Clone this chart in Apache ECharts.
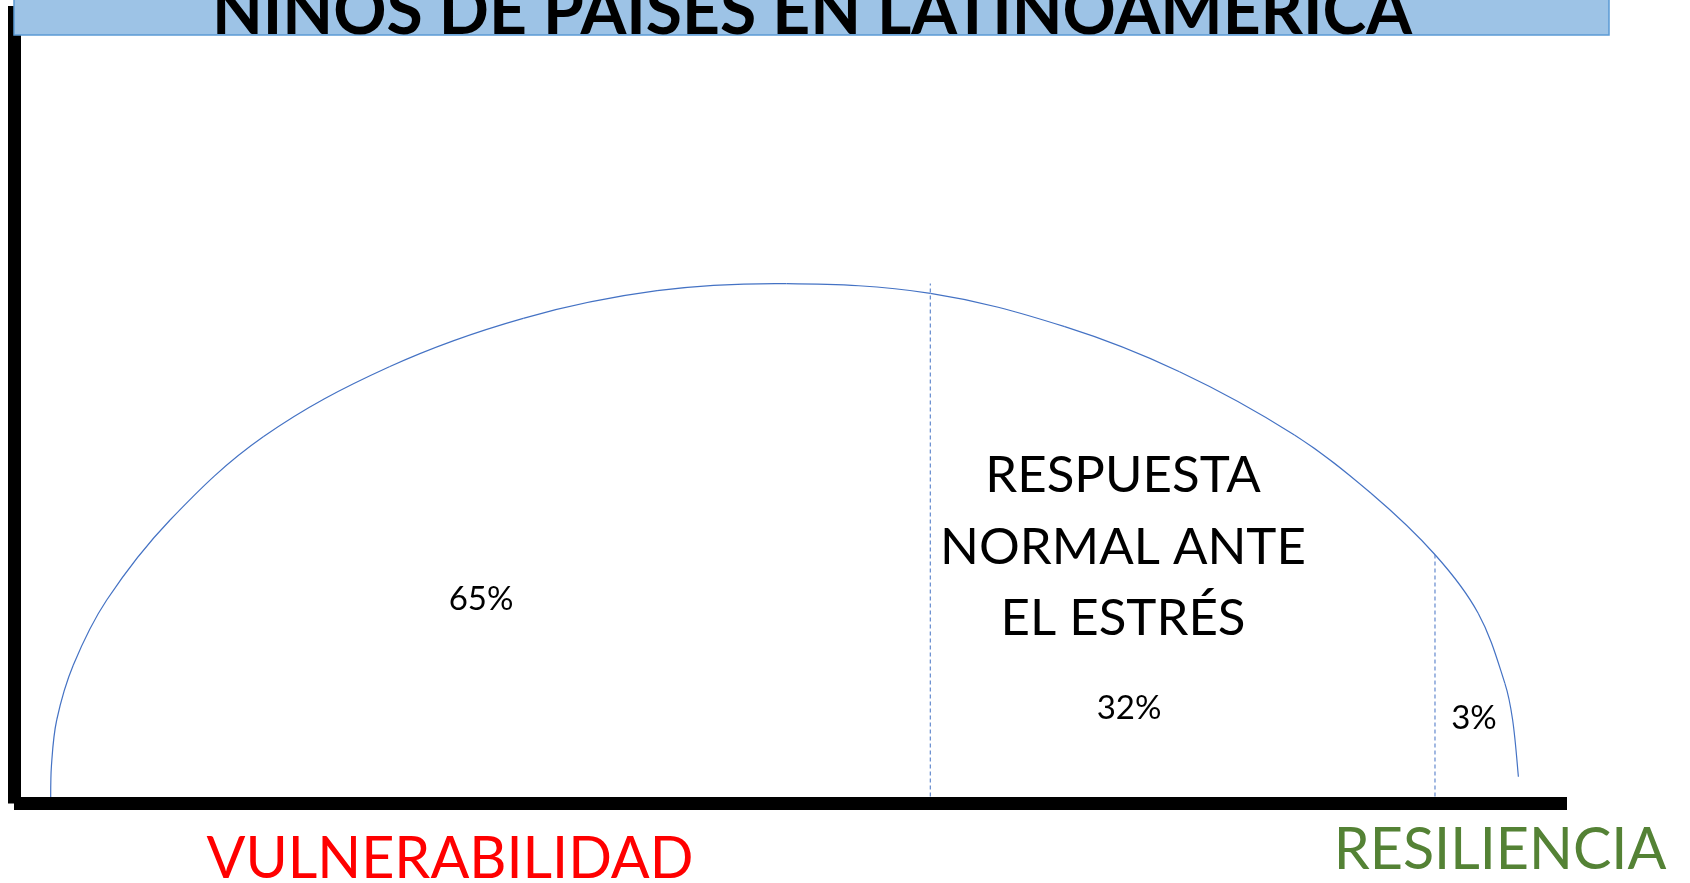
<!DOCTYPE html>
<html>
<head>
<meta charset="utf-8">
<script src="https://cdn.jsdelivr.net/npm/echarts@6/dist/echarts.min.js"></script>
<style>
  html, body { margin: 0; padding: 0; background: #ffffff; }
  #chart { width: 1690px; height: 883px; }
</style>
</head>
<body>
<div id="chart"></div>
<script>
// ---- data ----
const titleText = 'NIÑOS DE PAÍSES EN LATINOAMÉRICA';
const leftLabel = 'VULNERABILIDAD';
const rightLabel = 'RESILIENCIA';
const middleText = ['RESPUESTA', 'NORMAL ANTE', 'EL ESTRÉS'];
const shareLabels = ['65%', '32%', '3%'];

// arch curve (x: 0-100 along the base axis, y: 0-100 up the vertical axis)
const curveX = [2.36, 2.41, 2.75, 3.82, 5.97, 10.05, 16.05, 24.17, 32.79, 41.41, 49.75,
  59.01, 67.66, 75.05, 82.45, 87.38, 91.52, 94.28, 96.00, 96.50, 96.87];
const curveY = [0.0, 4.70, 10.47, 17.37, 25.52, 35.55, 45.99, 54.77, 60.84, 64.30, 65.18,
  63.97, 59.79, 54.14, 46.21, 38.90, 31.16, 23.85, 15.07, 10.47, 3.36];

// dashed dividers between the groups
const dividerX = [59.0, 91.5];
const dividerTop = [65.2, 31.3];

// ---- chart ----
const chart = echarts.init(document.getElementById('chart'), null, { renderer: 'canvas' });

const FONT = 'Lato, "Open Sans", "Noto Sans", sans-serif';
const curveData = curveX.map((x, i) => [x, curveY[i]]);

// each data item draws the smooth (Catmull-Rom style) segment to the next item
function renderArchSegment(params, api) {
  const i = params.dataIndex;
  const n = curveData.length;
  if (i >= n - 1) return { type: 'group', children: [] };
  const P = k => api.coord(curveData[Math.max(0, Math.min(n - 1, k))]);
  const p0 = P(i - 1), p1 = P(i), p2 = P(i + 1), p3 = P(i + 2);
  const d = (a, b) => Math.hypot(b[0] - a[0], b[1] - a[1]) || 1e-6;
  const d01 = i === 0 ? d(p1, p2) : d(p0, p1);
  const d12 = d(p1, p2);
  const d23 = i + 2 > n - 1 ? d(p1, p2) : d(p2, p3);
  const s = 0.36;
  const a1 = s * d12 / (d01 + d12), a2 = s * d12 / (d12 + d23);
  return {
    type: 'bezierCurve',
    shape: {
      x1: p1[0], y1: p1[1], x2: p2[0], y2: p2[1],
      cpx1: p1[0] + (p2[0] - p0[0]) * a1, cpy1: p1[1] + (p2[1] - p0[1]) * a1,
      cpx2: p2[0] - (p3[0] - p1[0]) * a2, cpy2: p2[1] - (p3[1] - p1[1]) * a2
    },
    style: { fill: null, stroke: '#4472C4', lineWidth: 1.2 }
  };
}

function txt(text, x, y, size, color, weight) {
  return {
    type: 'text', x: x, y: y, z: 20, silent: true,
    style: {
      text: text, fill: color, align: 'center', verticalAlign: 'middle',
      fontFamily: FONT, fontSize: size, fontWeight: weight || 'normal'
    }
  };
}

const axisBar = { show: true, onZero: false, lineStyle: { color: '#000000', width: 13, cap: 'butt' } };

const dividerSeries = dividerX.map((x, i) => ({
  type: 'line',
  data: [[x, 0], [x, dividerTop[i]]],
  symbol: 'none',
  silent: true,
  clip: false,
  lineStyle: { color: '#4472C4', width: 1, type: [4, 3] }
}));

const option = {
  backgroundColor: '#ffffff',
  animation: false,
  grid: { left: 14, right: 123, top: 6, bottom: 79.5, containLabel: false },
  xAxis: {
    type: 'value', min: 0, max: 100, z: 5,
    axisLine: axisBar,
    axisTick: { show: false }, axisLabel: { show: false }, splitLine: { show: false }
  },
  yAxis: {
    type: 'value', min: 0, max: 100, z: 5,
    axisLine: axisBar,
    axisTick: { show: false }, axisLabel: { show: false }, splitLine: { show: false }
  },
  series: [{
    type: 'custom',
    coordinateSystem: 'cartesian2d',
    data: curveData,
    encode: { x: 0, y: 1 },
    clip: false,
    silent: true,
    renderItem: renderArchSegment
  }].concat(dividerSeries),
  graphic: [
    {
      type: 'rect', z: 10, silent: true,
      shape: { x: 14, y: -10, width: 1595, height: 45 },
      style: { fill: '#9DC3E6', stroke: '#5B9BD5', lineWidth: 1.5 }
    },
    txt(titleText, 812, 13, 66, '#000000', 'bold'),
    txt(shareLabels[0], 481, 599, 33, '#000000'),
    txt(shareLabels[1], 1129, 708, 33, '#000000'),
    txt(shareLabels[2], 1474, 718, 33, '#000000'),
    txt(middleText[0], 1123, 476, 51, '#000000'),
    txt(middleText[1], 1123, 548, 51, '#000000'),
    txt(middleText[2], 1123, 619, 51, '#000000'),
    txt(leftLabel, 450, 859, 57.5, '#FF0000'),
    txt(rightLabel, 1500, 850, 57.5, '#548235')
  ]
};
chart.setOption(option);
</script>
</body>
</html>
